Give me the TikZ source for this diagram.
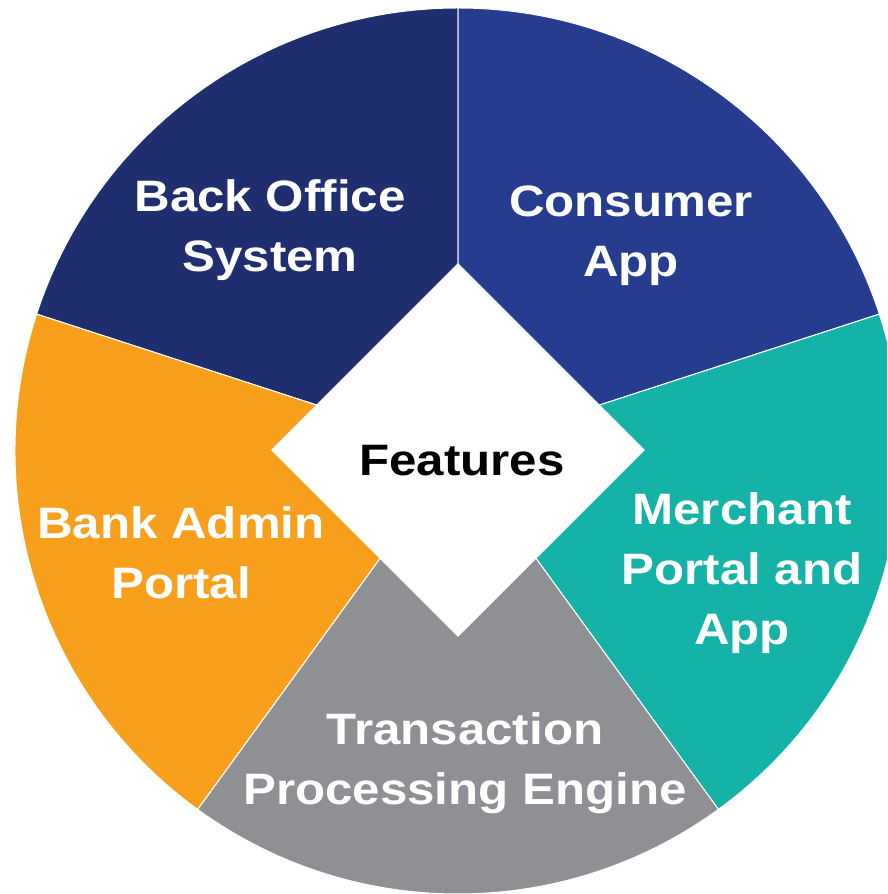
\documentclass[tikz,border=0pt]{standalone}
\usepackage{fontspec}
\newfontfamily\featfont{Liberation Sans}[FakeStretch=1.12]
\usetikzlibrary{shapes.geometric}
\definecolor{backoffice}{HTML}{1F2E6E}
\definecolor{consumer}{HTML}{253C8F}
\definecolor{merchant}{HTML}{14B2A7}
\definecolor{transaction}{HTML}{8E9094}
\definecolor{bankadmin}{HTML}{F89F1C}

\begin{document}
\begin{tikzpicture}[x=1pt,y=1pt,
        wedgelabel/.style={text=white,align=center,font=\featfont\bfseries\fontsize{44}{60}\selectfont},
        hublabel/.style={text=black,anchor=base,font=\featfont\bfseries\fontsize{44}{60}\selectfont}]
        \useasboundingbox (0,0) rectangle (887,894);
        \clip (0,0) rectangle (887,894);
        \coordinate (hub) at (458,443);
        % the five wedges
        \foreach \a/\b/\col in {90/162/backoffice,18/90/consumer,-54/18/merchant,-126/-54/transaction,-198/-126/bankadmin}
            \filldraw[fill=\col,draw=white,line width=1pt] (hub) -- ++(\a:443) arc[start angle=\a,end angle=\b,radius=443] -- cycle;
        \node[diamond,fill=white,minimum size=374,inner sep=0] (feat) at (458,444) {};
        \node[hublabel] (featlbl) at ([xshift=4,yshift=-26]feat.center) {Features};
        \node[wedgelabel] (backoff) at (270,663.5) {Back Office\\System};
        \node[wedgelabel] (consapp) at (631,658.5) {Consumer\\App};
        \node[wedgelabel] (merch) at (742,320.5) {Merchant\\Portal and\\App};
        \node[wedgelabel] (bankadm) at (181,341.5) {Bank Admin\\Portal};
        \node[wedgelabel] (txeng) at (465,130.5) {Transaction\\Processing Engine};
\end{tikzpicture}
\end{document}
